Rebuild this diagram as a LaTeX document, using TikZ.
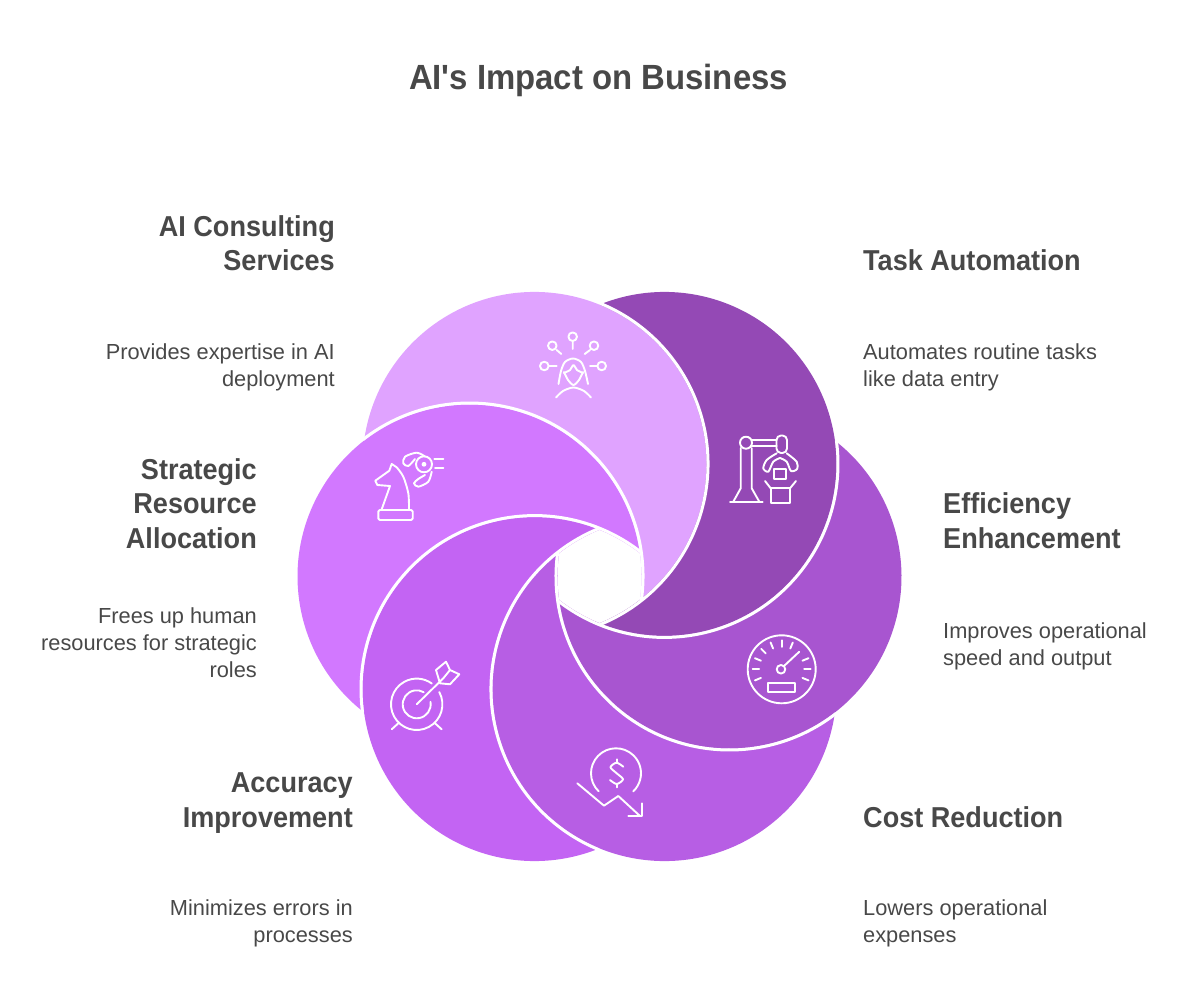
\documentclass[tikz,border=0pt]{standalone}
\usepackage{fontspec}
\setmainfont{Liberation Sans}
\newfontfamily\headfam[FakeStretch=0.94]{Liberation Sans}
\definecolor{cCon}{RGB}{224,163,255}
\definecolor{cStr}{RGB}{210,120,255}
\definecolor{cAcc}{RGB}{195,100,243}
\definecolor{cCos}{RGB}{183,94,228}
\definecolor{cEff}{RGB}{168,85,208}
\definecolor{cTas}{RGB}{148,73,181}
\definecolor{ink}{RGB}{72,72,72}
\tikzset{
  ic/.style={draw=white,line width=1.9pt,line cap=round,line join=round},
  titletext/.style={inner sep=0pt,text=ink,anchor=base,font=\headfam\fontsize{35}{40}\selectfont\bfseries},
  headr/.style={inner sep=0pt,text=ink,align=right,anchor=base east,font=\headfam\fontsize{28.8}{34.6}\selectfont\bfseries},
  headl/.style={inner sep=0pt,text=ink,align=left,anchor=base west,font=\headfam\fontsize{28.8}{34.6}\selectfont\bfseries},
  bodyr/.style={inner sep=0pt,text=ink,align=right,anchor=base east,font=\fontsize{21.8}{26.7}\selectfont},
  bodyl/.style={inner sep=0pt,text=ink,align=left,anchor=base west,font=\fontsize{21.8}{26.7}\selectfont},
}
\begin{document}
\begin{tikzpicture}[x=1pt,y=1pt,yscale=-1]
\useasboundingbox (0,0) rectangle (1200,1000);
% petals
\foreach \a/\c in {0/cAcc,60/cStr,120/cCon,180/cTas,240/cEff,300/cCos}{
  \fill[\c,rotate around={\a:(599.5,576.5)}] (599.5,529.83)
    arc[start angle=-67.8,end angle=-292.2,radius=172pt]
    arc[start angle=112.2,end angle=247.8,radius=172pt] -- cycle;
}
\foreach \a in {0,60,120,180,240,300}{
  \draw[white,line width=3pt,rotate around={\a:(599.5,576.5)}] (664.5,689.08) ++(247.8:173.5)
    arc[start angle=247.8,end angle=112.2,radius=173.5pt];
}
% consulting icon
\draw[ic] (572.7,336.7) circle[radius=4.3pt] (572.7,341.7) -- (572.7,349);
\draw[ic] (552.3,345.7) circle[radius=4.3pt] (556.7,350) -- (561.3,354);
\draw[ic] (594,345.7) circle[radius=4.3pt] (590,350) -- (584.7,354);
\draw[ic] (544.3,366) circle[radius=4.3pt] (549.3,366) -- (556.7,366);
\draw[ic] (601.7,366) circle[radius=4.3pt] (596.7,366) -- (590,366);
\draw[ic] plot[smooth] coordinates {(558.5,384) (561,371) (565,362) (573,358.5) (581,362) (585,371) (588,384)};
\draw[ic] plot[smooth] coordinates {(564,372) (568,380) (573.5,385) (579,380) (583,372)};
\draw[ic] plot[smooth] coordinates {(564,373) (570,370) (573.5,365) (577,370) (583,373)};
\draw[ic] plot[smooth] coordinates {(556,397.5) (563,391) (573.5,387.5) (584,391) (591,397.5)};
% knight icon
\draw[ic,rounded corners=1.5pt] (378.3,510) rectangle (412.7,520);
\draw[ic] (381.7,509.3) -- (390,486) -- (377.3,485) -- (375.3,480.7) -- (389.3,470.7) -- (391.7,464) -- (396.7,467.3)
  plot[smooth] coordinates {(396.7,467.3) (403.3,476.7) (408.3,493.3) (409,509.3)};
\draw[ic] (424,464.3) circle[radius=8pt];
\fill[white] (424,464.3) circle[radius=2.4pt];
\draw[ic] (434.3,459) -- (443.3,459) (435,467.7) -- (443.3,467.7);
\draw[ic] plot[smooth] coordinates {(425,456.5) (416.7,452.7) (405,456.7) (403.3,463.3) (408.3,466) (415,459)};
\draw[ic] plot[smooth] coordinates {(431.7,471.7) (428.3,481.7) (418.3,486.7) (414,483.3) (418.3,479) (425,475)};
% robot icon
\draw[ic] (730,501.7) -- (762.7,501.7);
\draw[ic] (740.7,448) -- (740.7,488.3) -- (733.3,501.7) (751.7,448) -- (751.7,488.3) -- (759.3,501.7);
\draw[ic] (746,442.7) circle[radius=6pt];
\draw[ic] (751.7,440) -- (776.7,440) (751.7,446) -- (776.7,446);
\draw[ic,rounded corners=4.5pt] (776.5,435.5) rectangle (787,453);
\draw[ic] plot[smooth] coordinates {(776.7,453.3) (766.7,460) (763.3,468.3) (768.3,471.7) (773.3,461.7) (780,458)};
\draw[ic] plot[smooth] coordinates {(786.7,453.3) (796.7,461.7) (797,469) (791,471) (786.7,461.7) (780,458)};
\draw[ic] (774,469.3) rectangle (786,479.3);
\draw[ic] (770.7,488.3) rectangle (790,502.7);
\draw[ic] (765,481) -- (770.7,488.3) (796,481) -- (790,488.3);
% gauge icon
\draw[ic] (781.7,669.3) circle[radius=34pt];
\draw[ic] (781,669.3) circle[radius=4.3pt];
\draw[ic] (784,666) -- (799.3,651.7);
\draw[ic] (768.3,682.7) rectangle (795,691.7);
\foreach \t in {-90,-112.5,-135,-157.5,180,157.5,-67.5,-22.5,0,22.5}{
  \draw[ic] (781.7,669.3) ++(\t:22.5) -- ++(\t:6.5);
}
% target icon
\draw[ic] (416.7,704.3) ++(-28.5:25.7) arc[start angle=-28.5,end angle=306,radius=25.7pt];
\draw[ic] (416.7,704.3) ++(-10:14) arc[start angle=-10,end angle=300,radius=14pt];
\draw[ic] (416.7,704.3) -- (443.3,678.3);
\draw[ic] (436,670) -- (446,661.7) -- (450,670) -- (459.3,674.3) -- (450,684.3) -- (440,683.3) -- cycle;
\draw[ic] (443.3,678.3) -- (450,670);
\draw[ic] (398.3,723.3) -- (391.7,729.3) (435,723.3) -- (441.7,729.3);
% cost icon
\draw[ic] (616,773.3) ++(134:25) arc[start angle=134,end angle=406.6,radius=25pt];
\draw[ic] plot[smooth] coordinates {(623.3,766.7) (616.5,762.7) (610.5,767.3) (616.7,773.3) (623,779.3) (616.7,784) (610,780)};
\draw[ic] (616.7,759.3) -- (616.7,762.7) (616.7,784) -- (616.7,787.3);
\draw[ic] (577.3,783.3) -- (604,805.7) -- (618.3,796) -- (640,816);
\draw[ic] (641.7,803.3) -- (641.7,816) -- (628.3,816);
% texts
\node[titletext] (title) at (598.5,89.5) {AI's Impact on Business};
\node[headr] (h1) at (335,271) {AI Consulting\\Services};
\node[bodyr] (b1) at (335,386.5) {Provides expertise in AI\\deployment};
\node[headl] (h2) at (863,271) {Task Automation};
\node[bodyl] (b2) at (863,386.5) {Automates routine tasks\\like data entry};
\node[headr] (h3) at (257,548.5) {Strategic\\Resource\\Allocation};
\node[bodyr] (b3) at (257,677) {Frees up human\\resources for strategic\\roles};
\node[headl] (h4) at (943,548.5) {Efficiency\\Enhancement};
\node[bodyl] (b4) at (943,665) {Improves operational\\speed and output};
\node[headr] (h5) at (353,827) {Accuracy\\Improvement};
\node[bodyr] (b5) at (353,942) {Minimizes errors in\\processes};
\node[headl] (h6) at (863,827) {Cost Reduction};
\node[bodyl] (b6) at (863,942) {Lowers operational\\expenses};
\end{tikzpicture}
\end{document}
